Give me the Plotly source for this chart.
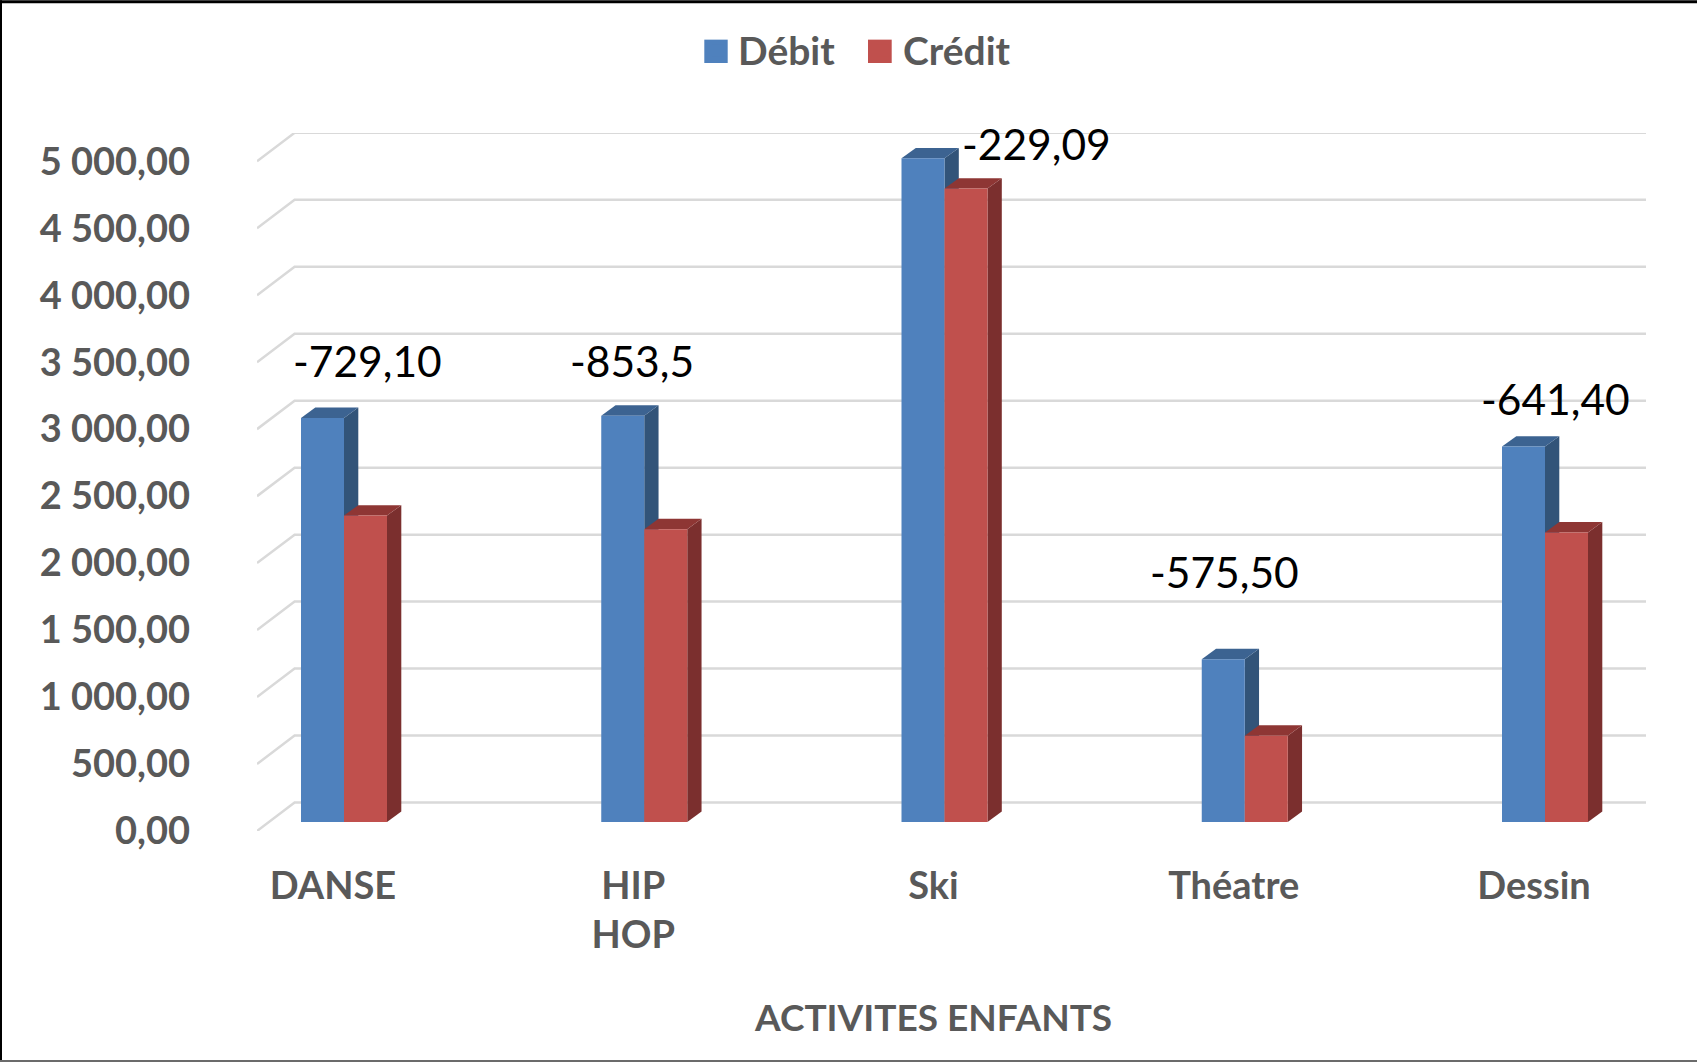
import plotly.graph_objects as go

# ---------- data ----------
categories = ["DANSE", "HIP<br>HOP", "Ski", "Théatre", "Dessin"]
debit = [3017, 3033, 4955, 1216, 2803]
credit = [2288, 2186, 4729, 644, 2162]
balance_labels = ["-729,10", "-853,5", "-229,09", "-575,50", "-641,40"]
y_ticks = [0, 500, 1000, 1500, 2000, 2500, 3000, 3500, 4000, 4500, 5000]
y_tick_labels = ["0,00", "500,00", "1 000,00", "1 500,00", "2 000,00", "2 500,00",
                 "3 000,00", "3 500,00", "4 000,00", "4 500,00", "5 000,00"]
x_title = "ACTIVITES ENFANTS"

# ---------- layout constants (pixels) ----------
W, H = 1697, 1062
L, R, T, B = 257, 1646, 132.7, 831
PX_PER_CAT = 300.25
PX_PER_UNIT = 0.134
CAT0_PX = 333
ux = lambda px: px / PX_PER_CAT
uy = lambda px: px / PX_PER_UNIT
X_RANGE = [ux(L - CAT0_PX), ux(R - CAT0_PX)]
Y_RANGE = [0, uy(B - T)]
BAR_W = ux(43)
BLUE_OFF = ux(301 - CAT0_PX)
RED_OFF = BLUE_OFF + BAR_W
LIFT = uy(9)
DX, DY = ux(14.3), uy(10.4)
WALL_DX, WALL_DY = ux(37.6), uy(28.5)
label_dx = [34, -1, 103, -9, 21]
label_dy = [57, 55, 15, 88, 48]

BLUE, BLUE_SIDE, BLUE_TOP = "#4F81BD", "#325479", "#3C6391"
RED, RED_SIDE, RED_TOP = "#C0504D", "#7B2F2E", "#8E3634"
GRID, TXT = "#D9D9D9", "#595959"
FONT = "Lato"

fig = go.Figure()

# back wall gridlines with their slanted left ends
gx, gy = [], []
for v in y_ticks:
    gx += [X_RANGE[0], X_RANGE[0] + WALL_DX, X_RANGE[1], None]
    gy += [v, v + WALL_DY, v + WALL_DY, None]
fig.add_trace(go.Scatter(x=gx, y=gy, mode="lines", line=dict(color=GRID, width=2.5),
                         hoverinfo="skip", showlegend=False))


def faces(values, offset, side_color, top_color):
    for i, v in enumerate(values):
        x0 = i + offset
        x1 = x0 + BAR_W
        top = v + LIFT
        fig.add_trace(go.Scatter(
            x=[x1, x1 + DX, x1 + DX, x1, x1],
            y=[LIFT, LIFT + DY, top + DY, top, LIFT],
            mode="lines", fill="toself", fillcolor=side_color, line=dict(width=0),
            hoverinfo="skip", showlegend=False))
        fig.add_trace(go.Scatter(
            x=[x0, x0 + DX, x1 + DX, x1, x0],
            y=[top, top + DY, top + DY, top, top],
            mode="lines", fill="toself", fillcolor=top_color, line=dict(width=0),
            hoverinfo="skip", showlegend=False))


faces(debit, BLUE_OFF, BLUE_SIDE, BLUE_TOP)
faces(credit, RED_OFF, RED_SIDE, RED_TOP)

xs = list(range(len(categories)))
fig.add_trace(go.Bar(name="Débit", x=xs, y=debit, base=LIFT, width=BAR_W, offset=BLUE_OFF,
                     marker=dict(color=BLUE, line=dict(width=0)), xaxis="x2", yaxis="y2"))
fig.add_trace(go.Bar(name="Crédit", x=xs, y=credit, base=LIFT, width=BAR_W, offset=RED_OFF,
                     marker=dict(color=RED, line=dict(width=0)), xaxis="x2", yaxis="y2"))


def paper_x(px):
    return (px - L) / (R - L)


def paper_y(px):
    return (B - px) / (B - T)


annotations = [
    dict(x=i, y=debit[i] + LIFT, xref="x", yref="y", text=balance_labels[i], showarrow=False,
         xshift=label_dx[i], yshift=label_dy[i], xanchor="center", yanchor="middle",
         font=dict(family=FONT, size=42.5, color="#000000"))
    for i in xs
]
annotations.append(dict(x=paper_x(933), y=paper_y(1017), xref="paper", yref="paper", text=x_title,
                        showarrow=False, xanchor="center", yanchor="middle",
                        font=dict(family=FONT, size=37, color=TXT, weight=700)))


def rect(x0, y0, x1, y1, color):
    return dict(type="rect", xref="paper", yref="paper", x0=paper_x(x0), x1=paper_x(x1),
                y0=paper_y(y0), y1=paper_y(y1), fillcolor=color, line=dict(width=0), layer="above")


shapes = [
    rect(0, 0, W, 3, "#000000"),
    rect(0, 0, 2, H, "#000000"),
    rect(0, H - 2, W, H, "#6B6B6B"),
    rect(704.3, 39.3, 727.7, 62.7, BLUE),
    rect(868, 39.3, 891.7, 62.7, RED),
]

fig.update_layout(
    width=W, height=H, autosize=False,
    margin=dict(l=L, r=W - R, t=T, b=H - B, pad=0),
    paper_bgcolor="#FFFFFF", plot_bgcolor="rgba(0,0,0,0)",
    barmode="overlay", showlegend=True, hovermode=False,
    font=dict(family=FONT, color=TXT),
    legend=dict(orientation="h", x=paper_x(698), y=paper_y(18), xanchor="left", yanchor="top",
                bgcolor="rgba(0,0,0,0)", font=dict(family=FONT, size=39, color=TXT, weight=700),
                entrywidth=120, entrywidthmode="pixels", traceorder="normal"),
    xaxis=dict(range=X_RANGE, tickmode="array", tickvals=xs, ticktext=categories,
               showgrid=False, zeroline=False, showline=False, ticks="", ticklabelstandoff=29,
               tickfont=dict(family=FONT, size=38, color=TXT, weight=700), fixedrange=True),
    yaxis=dict(range=Y_RANGE, tickmode="array", tickvals=y_ticks, ticktext=y_tick_labels,
               showgrid=False, zeroline=False, showline=False, ticks="", ticklabelstandoff=66,
               tickfont=dict(family=FONT, size=38, color=TXT, weight=700), fixedrange=True),
    xaxis2=dict(overlaying="x", matches="x", visible=False),
    yaxis2=dict(overlaying="y", matches="y", visible=False),
    annotations=annotations, shapes=shapes,
)

fig.write_html("out.html", config=dict(displayModeBar=False),
               post_script="document.body.style.margin='0';")
